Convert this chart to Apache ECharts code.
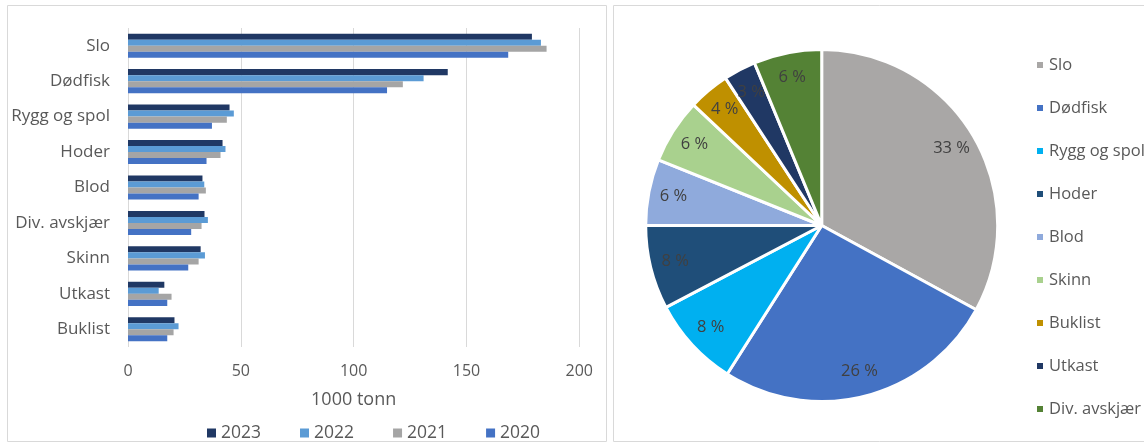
<!DOCTYPE html>
<html><head><meta charset="utf-8">
<script src="https://cdn.jsdelivr.net/npm/echarts@6/dist/echarts.min.js"></script>
<style>html,body{margin:0;padding:0;background:#fff}#c{width:1144px;height:444px}</style>
</head><body><div id="c"></div>
<script>
const categories = ['Slo','Dødfisk','Rygg og spol','Hoder','Blod','Div. avskjær','Skinn','Utkast','Buklist'];
const years = ['2023','2022','2021','2020'];
const v2023 = [179, 141.7, 45, 41.9, 33, 33.9, 32.2, 16.1, 20.6];
const v2022 = [183, 131, 46.9, 43.2, 33.8, 35.4, 34.1, 13.6, 22.4];
const v2021 = [185.5, 121.8, 43.8, 41, 34.5, 32.6, 31.3, 19.3, 20.2];
const v2020 = [168.5, 114.8, 37.2, 34.8, 31.3, 28, 26.7, 17.4, 17.4];
const xTicks = [0, 50, 100, 150, 200];
const xTitle = '1000 tonn';
const pieNames = ['Slo','Dødfisk','Rygg og spol','Hoder','Blod','Skinn','Buklist','Utkast','Div. avskjær'];
const pieValues = [179, 141.7, 45, 41.9, 33, 32.2, 20.6, 16.1, 33.9];

const yearColors = ['#203864','#5B9BD5','#A5A5A5','#4472C4'];
const pieColors = ['#A9A7A6','#4472C4','#00B0F0','#1F4E79','#8FAADC','#A9D18E','#BF9000','#203864','#548235'];
const FONT = 'Open Sans';
const yearValues = [v2023, v2022, v2021, v2020];

const chart = echarts.init(document.getElementById('c'));
const pieData = pieNames.map((n,i)=>({name:n, value:pieValues[i], itemStyle:{color:pieColors[i]}}));
chart.setOption({
  animation:false,
  textStyle:{fontFamily:FONT},
  graphic:[
    {type:'rect', shape:{x:7.5,y:5.5,width:599,height:436}, style:{fill:'none',stroke:'#D9D9D9',lineWidth:1}, silent:true, z:-10},
    {type:'rect', shape:{x:613.5,y:5.5,width:540,height:436}, style:{fill:'none',stroke:'#D9D9D9',lineWidth:1}, silent:true, z:-10}
  ],
  grid:{left:128, right:1144-579.3, top:28, bottom:97, containLabel:false},
  xAxis:{type:'value', min:xTicks[0], max:xTicks[xTicks.length-1], interval:50,
    name:xTitle, nameLocation:'middle', nameGap:44,
    nameTextStyle:{fontSize:18,color:'#595959',fontFamily:FONT},
    axisLine:{show:false}, axisTick:{show:false},
    axisLabel:{fontSize:16,color:'#595959',margin:16,fontFamily:FONT},
    splitLine:{lineStyle:{color:'#D9D9D9',width:1}}},
  yAxis:{type:'category', data:categories, inverse:true,
    axisLine:{show:false}, axisTick:{show:false},
    axisLabel:{fontSize:17,color:'#595959',margin:18,fontFamily:FONT}},
  legend:[{
    data:years, left:202, top:419, itemWidth:9, itemHeight:9, itemGap:39, icon:'rect',
    textStyle:{fontSize:17.5,color:'#595959',fontFamily:FONT}
  },{
    data:pieNames, orient:'vertical', left:1030, top:49, itemWidth:8, itemHeight:8, itemGap:21, icon:'rect',
    textStyle:{fontSize:16.5,color:'#595959',lineHeight:22,fontFamily:FONT}
  }],
  series:[
    ...years.map((y,i)=>({type:'bar', name:y, data:yearValues[i], barGap:'0%', barCategoryGap:'32%',
      itemStyle:{color:yearColors[i]}, xAxisIndex:0, yAxisIndex:0})),
    {type:'pie', name:'pie', center:[821.7,225.5], radius:[0,176], startAngle:90, clockwise:true,
      data:pieData, label:{show:false}, labelLine:{show:false},
      itemStyle:{borderColor:'#fff',borderWidth:3}, emphasis:{disabled:true}},
    {type:'pie', name:'pielabels', center:[821.7,225.5], radius:[120,176], startAngle:90, clockwise:true,
      data:pieNames.map((n,i)=>({name:n, value:pieValues[i]})), silent:true,
      itemStyle:{color:'rgba(0,0,0,0)', borderWidth:0}, legendHoverLink:false,
      label:{show:true, position:'inside', formatter:p=>Math.round(p.percent)+' %', color:'#404040', fontSize:16.5, fontFamily:FONT},
      labelLine:{show:false}, emphasis:{disabled:true}}
  ]
});
</script></body></html>
